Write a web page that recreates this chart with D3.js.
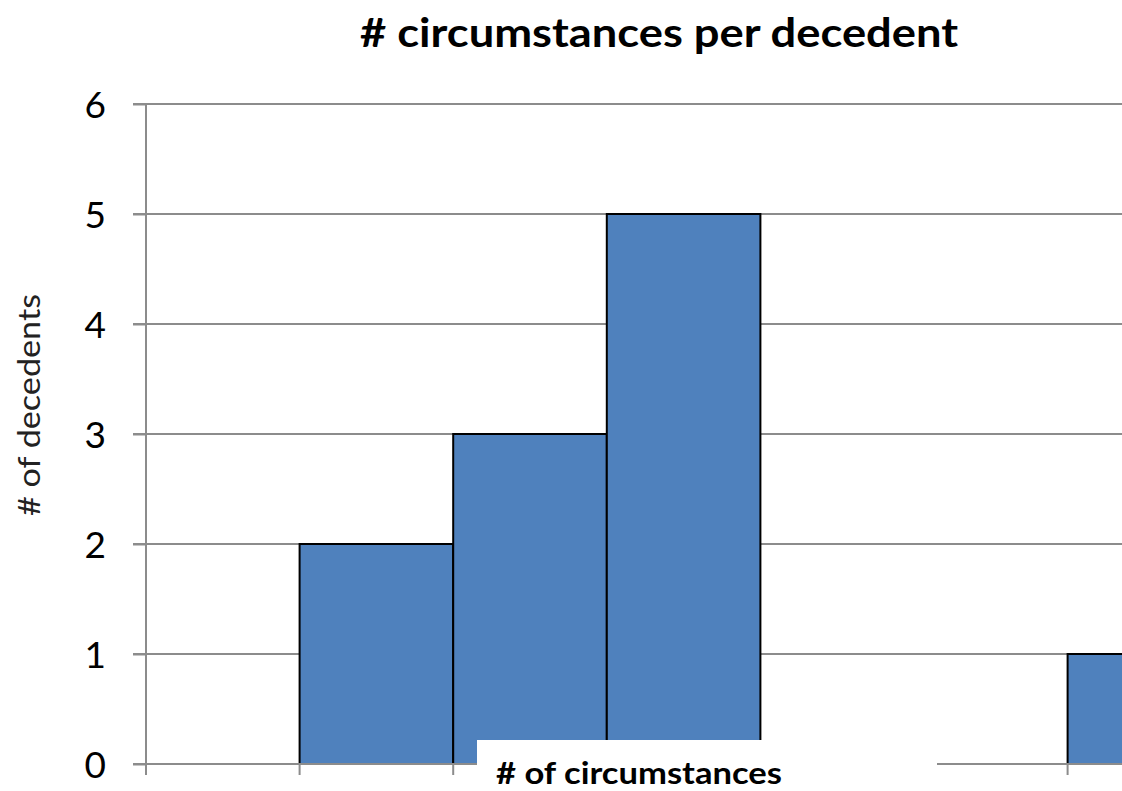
<!DOCTYPE html>
<html><head><meta charset="utf-8">
<script src="https://cdn.jsdelivr.net/npm/d3@7"></script>
<style>body{margin:0;background:#fff;overflow:hidden}svg{display:block}</style>
</head><body>
<svg id="c" width="1122" height="791"></svg>
<script>
const title = "# circumstances per decedent";
const yTitle = "# of decedents";
const xTitle = "# of circumstances";
const bins = ["0","1","2","3","4","5","6"];
const counts = [0,2,3,5,0,0,1];
const yTicks = [0,1,2,3,4,5,6];

const F = "Lato, 'Open Sans', sans-serif";
const svg = d3.select("#c");
const x = d3.scaleBand().domain(bins).range([146, 146 + 7*153.6]).padding(0);
const y = d3.scaleLinear().domain([0,6]).range([764,104]);
const grid = "#8c8c8c";

// gridlines
svg.append("g").selectAll("line").data(yTicks.filter(d=>d>0)).join("line")
  .attr("x1",133).attr("x2",1122).attr("y1",d=>y(d)).attr("y2",d=>y(d))
  .attr("stroke",grid).attr("stroke-width",2);

// bars
svg.append("g").selectAll("rect").data(bins.map((b,i)=>({b,v:counts[i]})).filter(d=>d.v>0)).join("rect")
  .attr("x",d=>x(d.b)).attr("width",x.bandwidth())
  .attr("y",d=>y(d.v)).attr("height",d=>y(0)-y(d.v))
  .attr("fill","#4F81BD").attr("stroke","#000").attr("stroke-width",2);

// y axis
const ya = svg.append("g").attr("transform","translate(146,0)")
  .call(d3.axisLeft(y).tickValues(yTicks).tickFormat(d3.format("d")).tickSize(13).tickPadding(27));
ya.select(".domain").attr("stroke",grid).attr("stroke-width",2).attr("d","M0,104V764");
ya.selectAll(".tick line").attr("stroke",grid).attr("stroke-width",2);
ya.selectAll(".tick text").attr("font-family",F).attr("font-size",37).attr("fill","#000").attr("dy","0.36em");

// x axis baseline + ticks at bin edges
const edges = bins.map(b=>x(b)).concat([x.range()[1]]);
svg.append("line").attr("x1",133).attr("x2",1122).attr("y1",y(0)).attr("y2",y(0))
  .attr("stroke",grid).attr("stroke-width",2);
svg.append("g").selectAll("line").data(edges).join("line")
  .attr("x1",d=>d).attr("x2",d=>d).attr("y1",y(0)).attr("y2",y(0)+11)
  .attr("stroke",grid).attr("stroke-width",2);

// title
svg.append("text").attr("x",659).attr("y",47).attr("text-anchor","middle")
  .attr("font-family",F).attr("font-weight","bold").attr("font-size",41)
  .attr("textLength",598).attr("lengthAdjust","spacingAndGlyphs").text(title);

// y title
svg.append("text").attr("transform","translate(40,405) rotate(-90)").attr("text-anchor","middle")
  .attr("font-family",F).attr("font-size",30).attr("fill","#222")
  .attr("textLength",222).attr("lengthAdjust","spacingAndGlyphs").text(yTitle);

// x title box
svg.append("rect").attr("x",477).attr("y",740).attr("width",460).attr("height",60).attr("fill","#fff");
svg.append("text").attr("x",496).attr("y",784)
  .attr("font-family",F).attr("font-weight","bold").attr("font-size",30)
  .attr("textLength",286).attr("lengthAdjust","spacingAndGlyphs").text(xTitle);
</script>
</body></html>
